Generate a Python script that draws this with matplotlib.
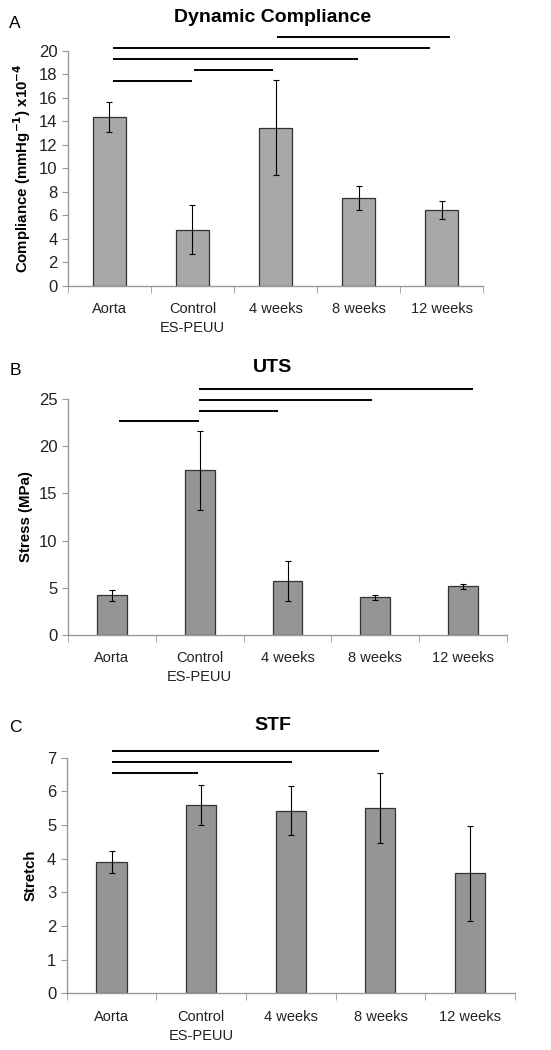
import matplotlib.pyplot as plt

plt.rcParams['font.family'] = ['Liberation Sans', 'DejaVu Sans']

categories = ["Aorta", "Control\nES-PEUU", "4 weeks", "8 weeks", "12 weeks"]

# Dynamic compliance (x10^-4 mmHg^-1)
comp_mean = [14.35, 4.77, 13.45, 7.43, 6.44]
comp_err = [1.30, 2.10, 4.03, 1.02, 0.77]
comp_bars = [(0.04, 0.99, 17.42), (1.02, 1.97, 18.33), (0.04, 2.99, 19.26),
             (0.04, 3.86, 20.20), (2.02, 4.10, 21.19)]

# Ultimate tensile strength (MPa)
uts_mean = [4.18, 17.46, 5.74, 3.97, 5.13]
uts_err = [0.55, 4.18, 2.12, 0.27, 0.28]
uts_bars = [(0.08, 0.99, 22.73), (0.99, 1.89, 23.76), (0.99, 2.96, 24.89),
            (0.99, 4.11, 26.06)]

# Stretch to failure
stf_mean = [3.89, 5.59, 5.43, 5.50, 3.56]
stf_err = [0.33, 0.59, 0.73, 1.04, 1.41]
stf_bars = [(0.00, 0.97, 6.55), (0.00, 2.01, 6.88), (0.00, 2.98, 7.21)]

fig = plt.figure(figsize=(5.51, 10.5), dpi=100)


def panel(rect, means, errs, sig, ymax, ystep, title, ylabel, letter,
          color, width, title_y, letter_y):
    ax = fig.add_axes(rect)
    x = list(range(len(means)))
    ax.bar(x, means, width=width, color=color, edgecolor="#333333",
           linewidth=0.9, zorder=2)
    ax.errorbar(x, means, yerr=errs, fmt="none", ecolor="black",
                elinewidth=0.8, capsize=2, capthick=0.8, zorder=3)
    for x0, x1, y in sig:
        ax.plot([x0, x1], [y, y], color="black", linewidth=1.4,
                clip_on=False, solid_capstyle="butt")
    ax.set_xlim(-0.5, len(means) - 0.5)
    ax.set_ylim(0, ymax)
    ax.set_yticks([i * ystep for i in range(int(ymax / ystep) + 1)])
    ax.set_xticks(x)
    ax.set_xticklabels(categories, fontsize=10.5, color="#222222",
                       linespacing=1.45)
    ax.set_xticks([i - 0.5 for i in range(len(means) + 1)], minor=True)
    ax.tick_params(axis="x", which="major", length=0, pad=12)
    ax.tick_params(axis="x", which="minor", length=5, color="#999999",
                   direction="out")
    ax.tick_params(axis="y", length=4, color="#999999", labelsize=12,
                   labelcolor="#222222")
    for s in ("top", "right"):
        ax.spines[s].set_visible(False)
    for s in ("left", "bottom"):
        ax.spines[s].set_color("#999999")
        ax.spines[s].set_linewidth(1.0)
    ax.set_ylabel(ylabel, fontsize=10.8, fontweight="bold")
    fig.text(0.495, title_y, title, ha="center", va="center",
             fontsize=14, fontweight="bold")
    fig.text(0.027, letter_y, letter, ha="center", va="center", fontsize=12.5)
    return ax


ax1 = panel([0.1234, 0.7279, 0.7532, 0.2238], comp_mean, comp_err, comp_bars,
            20, 2, "Dynamic Compliance",
            r"Compliance (mmHg$^{\mathbf{-1}}$) x10$^{\mathbf{-4}}$", "A",
            "#a8a8a8", 0.4, 1 - 17 / 1050, 1 - 23 / 1050)
ax1.yaxis.set_label_coords(-0.085, 0.5)

ax2 = panel([0.1229, 0.3955, 0.7978, 0.2242], uts_mean, uts_err, uts_bars,
            25, 5, "UTS", "Stress (MPa)", "B",
            "#959595", 0.34, 1 - 367 / 1050, 1 - 370 / 1050)
ax2.yaxis.set_label_coords(-0.079, 0.5)

ax3 = panel([0.121, 0.054, 0.8136, 0.2244], stf_mean, stf_err, stf_bars,
            7, 1, "STF", "Stretch", "C",
            "#959595", 0.335, 1 - 725 / 1050, 1 - 728 / 1050)
ax3.yaxis.set_label_coords(-0.064, 0.5)

fig.savefig("out.png", dpi=100)
